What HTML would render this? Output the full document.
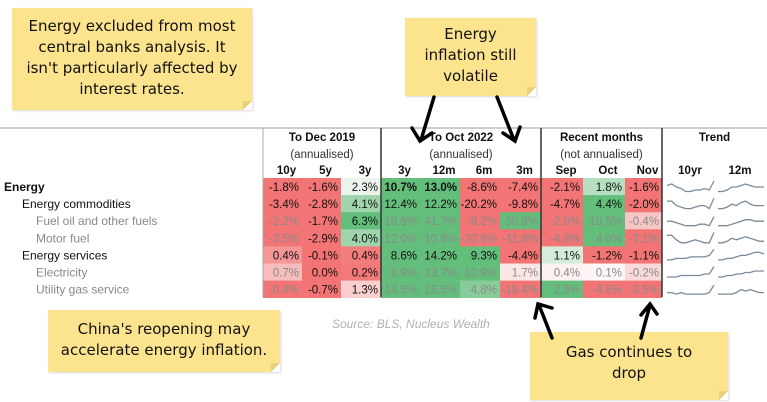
<!DOCTYPE html>
<html><head><meta charset="utf-8"><style>
body{margin:0;width:767px;height:402px;background:#fff;position:relative;overflow:hidden;font-family:"Liberation Sans",sans-serif}
.note{position:absolute;background:#fce48f;font-family:"DejaVu Sans",sans-serif;font-size:15px;line-height:21px;color:#111;text-align:center;box-shadow:1px 1px 2px rgba(0,0,0,0.15)}
.note:after{content:"";position:absolute;right:0;bottom:0;border-style:solid;border-width:0 0 9px 9px;border-color:transparent transparent #fff #e8cf7a}
.t{position:absolute;font-size:11.5px;white-space:nowrap}
</style></head><body>
<div class="note" style="left:12px;top:8px;width:240px;height:102px;padding-top:8px;box-sizing:border-box">Energy excluded from most<br>central banks analysis. It<br>isn't particularly affected by<br>interest rates.</div>
<div class="note" style="left:405px;top:18px;width:131px;height:78px;padding-top:6px;box-sizing:border-box">Energy<br>inflation still<br>volatile</div>
<div class="note" style="left:48px;top:310px;width:232px;height:62px;padding-top:9px;box-sizing:border-box">China's reopening may<br>accelerate energy inflation.</div>
<div class="note" style="left:530px;top:332px;width:198px;height:68px;padding-top:10px;box-sizing:border-box">Gas continues to<br>drop</div>
<div class="t" style="left:332px;top:317px;color:#b0b0b0;font-style:italic;font-size:12px">Source: BLS, Nucleus Wealth</div>
<svg id="tbl" width="767" height="402" style="position:absolute;left:0;top:0"></svg>
<svg width="767" height="402" style="position:absolute;left:0;top:0;pointer-events:none">
<g stroke="#000" stroke-width="3.5" fill="none" stroke-linecap="round">
<path d="M434 97 L421 140 M412 128 L420 141 L432 133"/>
<path d="M497 97 L514 140 M503 133 L515 141 L520 127"/>
<path d="M552 338 L539 305 M535 318 L538 304 L552 308"/>
<path d="M641 338 L650 305 M641 315 L650 304 L657 314"/>
</g></svg>
<script>
const rowLabels=["Energy","Energy commodities","Fuel oil and other fuels","Motor fuel","Energy services","Electricity","Utility  gas service"];
const colLabels=["10y","5y","3y","3y","12m","6m","3m","Sep","Oct","Nov"];
const groupTitles=["To Dec 2019","To Oct 2022","Recent months","Trend"];
const groupSubs=["(annualised)","(annualised)","(not annualised)",""];
const values=[
[-1.8,-1.6,2.3,10.7,13.0,-8.6,-7.4,-2.1,1.8,-1.6],
[-3.4,-2.8,4.1,12.4,12.2,-20.2,-9.8,-4.7,4.4,-2.0],
[-2.2,-1.7,6.3,19.8,41.7,-9.2,30.9,-2.8,10.5,-0.4],
[-3.5,-2.9,4.0,12.0,10.8,-20.8,-11.8,-4.8,4.0,-2.1],
[0.4,-0.1,0.4,8.6,14.2,9.3,-4.4,1.1,-1.2,-1.1],
[0.7,0.0,0.2,6.9,13.7,10.9,1.7,0.4,0.1,-0.2],
[-0.4,-0.7,1.3,14.5,15.5,4.8,-19.4,2.9,-4.6,-3.5]];
const spark10=[
[5,6,4,3,1,1,2,2,3,2,8],[6,6,3,2,1,1,2,3,3,1,8],[4,4,3,2,1,1,1,2,2,1,7],[6,6,3,1,1,2,3,2,1,1,8],
[1,1,2,2,2,3,3,3,3,4,8],[1,1,1,2,2,2,2,2,3,3,8],[2,2,1,2,1,1,1,1,1,2,7]];
const spark12=[
[1,1,2,4,4,5,6,5,4,4,4],[1,1,2,4,3,5,6,4,3,3,3],[1,1,1,2,3,4,5,5,4,4,4],[1,1,2,4,3,4,5,4,3,2,2],
[1,1,2,2,3,4,4,5,6,6,5],[1,1,2,2,3,3,4,4,5,5,5],[1,1,1,1,2,4,3,4,3,2,2]];
const cellColors=[
["#f27474","#f27474","#eaf4ec","#63be7b","#63be7b","#f27474","#f27474","#f27474","#b5dfc0","#f27474"],
["#f27474","#f27474","#9fd4ac","#63be7b","#63be7b","#f27474","#f27474","#f27474","#63be7b","#f27474"],
["#f27474","#f27474","#63be7b","#63be7b","#63be7b","#f27474","#63be7b","#f27474","#63be7b","#f7c6c6"],
["#f27474","#f27474","#9fd4ac","#63be7b","#63be7b","#f27474","#f27474","#f27474","#63be7b","#f27474"],
["#f49696","#f27474","#f37c7c","#63be7b","#63be7b","#63be7b","#f27474","#d6ecdb","#f27474","#f27474"],
["#f7bcbc","#f27474","#f27a7a","#63be7b","#63be7b","#63be7b","#fbe6e6","#fbf2f2","#fcf6f6","#f8dada"],
["#f27474","#f27474","#f9cfcf","#63be7b","#63be7b","#86cc98","#f27474","#63be7b","#f27474","#f27474"]];
const NS="http://www.w3.org/2000/svg";
const svg=document.getElementById('tbl');
const edges=[263,302,341,381,420,460,500,541,583,625,662];
const rowTop=178,rowH=17.1;
function el(tag,attrs,txt){const e=document.createElementNS(NS,tag);for(const k in attrs)e.setAttribute(k,attrs[k]);if(txt!==undefined)e.textContent=txt;svg.appendChild(e);return e;}
function xCol(i){return edges[i];}
function yRow(r){return rowTop+r*rowH;}
const line=el('line',{x1:0,y1:128,x2:767,y2:128,stroke:'#999','stroke-width':1});


const bold=[true,false,false,false,false,false,false];
const dark=[true,true,false,false,true,false,false];
values.forEach((row,r)=>{
  const lab=el('text',{x:r==0?4:(dark[r]?22:36),y:yRow(r)+13,'font-size':12,fill:dark[r]?'#111':'#888','font-weight':bold[r]?'bold':'normal'},rowLabels[r]);
  
  
  row.forEach((v,c)=>{
    const rc=el('rect',{x:xCol(c),y:yRow(r),width:xCol(c+1)-xCol(c),height:rowH+0.3,fill:cellColors[r][c]});
    
    
    const tc=(dark[r]||c==1||c==2)?'#111':'#8a8a8a';
    const tx=el('text',{x:xCol(c+1)-3,y:yRow(r)+13,'font-size':11.5,'text-anchor':'end',fill:tc,'font-weight':r==0&&c>=3&&c<=4?'bold':'normal'},v.toFixed(1)+'%');
    
    
  });
  [[spark10[r],667,714],[spark12[r],718,764]].forEach(([d,x0,x1])=>{
    const mx=8,pts=d.map((v,i)=>(x0+i*(x1-x0)/(d.length-1)).toFixed(1)+','+(yRow(r)+15-v*12/mx).toFixed(1)).join(' ');
    const pl=el('polyline',{points:pts,fill:'none',stroke:'#7d8a99','stroke-width':1.3});
    
    
  });
});
const gx=[[263,381],[381,541],[541,662],[662,767]];
gx.forEach(([a,b],g)=>{
  const t=el('text',{x:(a+b)/2,y:141,'font-size':11.5,'font-weight':'bold','text-anchor':'middle',fill:'#111'},groupTitles[g]);
  
  
  const s=el('text',{x:(a+b)/2,y:158,'font-size':11.5,'text-anchor':'middle',fill:'#333'},groupSubs[g]);
  
  
  const sep=el('line',{x1:a,y1:128,x2:a,y2:297,stroke:g==0?'#aaa':'#333','stroke-width':g==0?1:1.5});
  
  
});
colLabels.forEach((l,c)=>{
  const t=el('text',{x:(xCol(c)+xCol(c+1))/2+4,y:174,'font-size':11.5,'font-weight':'bold','text-anchor':'middle',fill:'#111'},l);
  
  
});
['10yr','12m'].forEach((l,i)=>{
  const t=el('text',{x:690+i*50,y:174,'font-size':11.5,'font-weight':'bold','text-anchor':'middle',fill:'#111'},l);
  
  
});
</script>
</body></html>
